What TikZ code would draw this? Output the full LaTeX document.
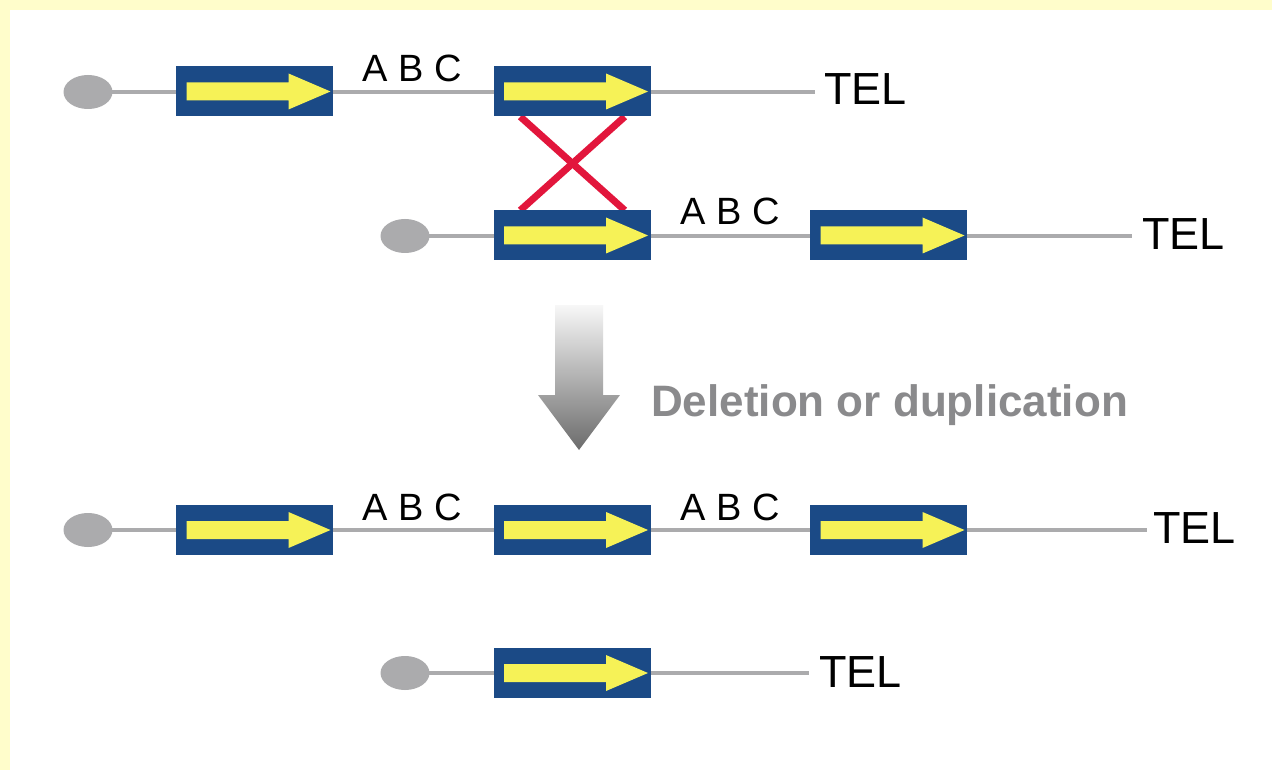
\documentclass[tikz,border=0pt]{standalone}
\usepackage{fontspec}
\setmainfont{Liberation Sans}
\usetikzlibrary{shapes.geometric,calc}

\definecolor{bgyellow}{HTML}{FFFDCB}
\definecolor{geneblue}{HTML}{1B4A86}
\definecolor{arrowyellow}{HTML}{F6F257}
\definecolor{chromgray}{HTML}{ABABAD}
\definecolor{crossred}{HTML}{E2163C}
\definecolor{labelgray}{HTML}{8A8A8C}

\pgfdeclarelayer{canvas}
\pgfdeclarelayer{strands}
\pgfsetlayers{canvas,strands,main}

\tikzset{
  gene/.style={fill=geneblue, minimum width=157pt, minimum height=50pt, inner sep=0pt},
  centromere/.style={ellipse, fill=chromgray, minimum width=49pt, minimum height=34pt, inner sep=0pt},
  tel/.style={font=\fontsize{45}{50}\selectfont, inner sep=0pt, anchor=base west},
  abc/.style={font=\fontsize{38}{42}\selectfont, inner sep=0pt, anchor=base},
  strand/.style={draw=chromgray, line width=4pt},
  crossover/.style={draw=crossred, line width=7pt},
}

% yellow direction arrow inside a gene box
\newcommand\genearrow[1]{%
  \fill[arrowyellow, shift={(#1.center)}]
    (-68,-9) -- (34,-9) -- (34,-18) -- (76,0) -- (34,18) -- (34,9) -- (-68,9) -- cycle;}

\begin{document}
\begin{tikzpicture}[x=1pt, y=-1pt]
\useasboundingbox (0,0) rectangle (1272,770);

\begin{pgfonlayer}{canvas}
  \fill[bgyellow] (0,0) rectangle (1272,770);
  \fill[white] (10,10) rectangle (1272,770);
\end{pgfonlayer}

% ---- row 1
\node[centromere] (c1) at (88,92) {};
\node[gene] (g1) at (254.5,91.5) {};
\node[gene] (g2) at (572,91.5) {};
\node[abc] (l1) at (412,82) {A B C};
\node[tel] (t1) at (824,105) {TEL};

% ---- row 2
\node[centromere] (c2) at (405,236) {};
\node[gene] (g3) at (572,235.5) {};
\node[gene] (g4) at (888.5,235.5) {};
\node[abc] (l2) at (730,225) {A B C};
\node[tel] (t2) at (1142,250) {TEL};

% ---- row 3
\node[centromere] (c3) at (88,530) {};
\node[gene] (g5) at (254.5,530) {};
\node[gene] (g6) at (572,530) {};
\node[gene] (g7) at (888.5,530) {};
\node[abc] (l3) at (412,520) {A B C};
\node[abc] (l4) at (730,520) {A B C};
\node[tel] (t3) at (1153,543) {TEL};

% ---- row 4
\node[centromere] (c4) at (405,673) {};
\node[gene] (g8) at (572,673) {};
\node[tel] (t4) at (819,687) {TEL};

\begin{pgfonlayer}{strands}
  \draw[strand] (c1.center) -- ($(c1 -| t1.west)+(-9,0)$);
  \draw[strand] (c2.center) -- ($(c2 -| t2.west)+(-10,0)$);
  \draw[strand] (c3.center) -- ($(c3 -| t3.west)+(-6,0)$);
  \draw[strand] (c4.center) -- ($(c4 -| t4.west)+(-10,0)$);
  % crossover between the paired genes
  \draw[crossover] ($(g2.south west)+(27,0)$) -- ($(g3.north east)+(-26,0)$);
  \draw[crossover] ($(g2.south east)+(-26,0)$) -- ($(g3.north west)+(27,0)$);
\end{pgfonlayer}

\foreach \g in {g1,g2,g3,g4,g5,g6,g7,g8} {\genearrow{\g}}

% ---- transition arrow
\shade[top color=white!97!black, bottom color=black!58]
  (555,305) -- (603,305) -- (603,395) -- (620,395) -- (579,450)
  -- (538,395) -- (555,395) -- cycle;
\node[font=\bfseries\fontsize{44}{48}\selectfont, text=labelgray, inner sep=0pt,
      anchor=base west] (lab) at (651,416) {Deletion or duplication};
\end{tikzpicture}
\end{document}
